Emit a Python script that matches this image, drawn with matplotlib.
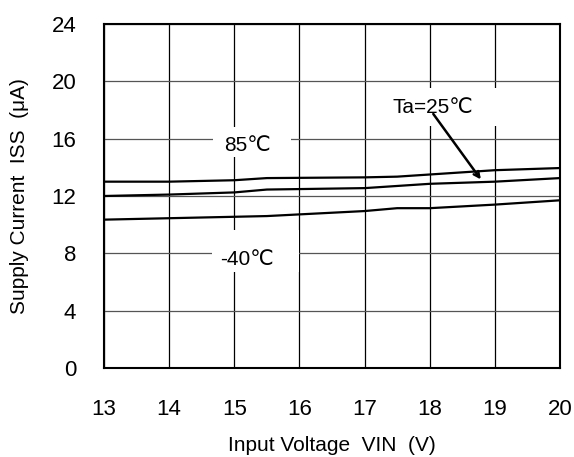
import numpy as np
import matplotlib
matplotlib.use("Agg")
import matplotlib.pyplot as plt
from matplotlib.patches import Rectangle

# supply current vs input voltage, three temperatures
vin = [13, 14, 15, 15.5, 17, 17.5, 18, 19, 20]
iss_85 = [13.0, 13.0, 13.1, 13.25, 13.3, 13.35, 13.5, 13.8, 13.95]
iss_25 = [12.0, 12.1, 12.25, 12.45, 12.55, 12.7, 12.85, 13.0, 13.25]
iss_m40 = [10.35, 10.45, 10.55, 10.6, 10.95, 11.15, 11.15, 11.4, 11.7]

xticks = [13, 14, 15, 16, 17, 18, 19, 20]
yticks = [0, 4, 8, 12, 16, 20, 24]

plt.rcParams['font.family'] = ['Liberation Sans', 'DejaVu Sans']

fig = plt.figure(figsize=(5.74, 4.57), dpi=100)
ax = fig.add_axes([104 / 574, 1 - 368 / 457, 456 / 574, 344 / 457])

for y in iss_85, iss_25, iss_m40:
    ax.plot(vin, y, color='black', lw=1.6, zorder=3)

ax.set_xlim(13, 20)
ax.set_ylim(0, 24)
ax.set_xticks(xticks)
ax.set_yticks(yticks)
ax.tick_params(length=0, labelsize=16, pad=22)
ax.tick_params(axis='y', pad=20)
ax.grid(axis='x', color='black', lw=0.9)
ax.grid(axis='y', color='#555555', lw=0.9)
for s in ax.spines.values():
    s.set_linewidth(1.5)

# white patches behind the labels
for x0, y0, w, h in [(14.67, 14.7, 1.2, 2.1), (14.66, 6.7, 1.33, 2.93), (17.36, 16.89, 1.67, 2.65)]:
    ax.add_patch(Rectangle((x0, y0), w, h, facecolor='white', edgecolor='none', zorder=2.5))

ax.text(15.2, 15.5, '85\u2103', fontsize=15, ha='center', va='center', zorder=4)
ax.text(15.2, 7.6, '-40\u2103', fontsize=15, ha='center', va='center', zorder=4)
ax.text(18.05, 18.2, 'Ta=25\u2103', fontsize=15, ha='center', va='center', zorder=4)
ax.annotate('', xy=(18.81, 13.0), xytext=(18.03, 17.88),
            arrowprops=dict(arrowstyle='->', color='black', lw=1.8), zorder=5)

ax.set_xlabel('Input Voltage  VIN  (V)', fontsize=15, labelpad=12)
ax.set_ylabel('Supply Current  ISS  (\u03bcA)', fontsize=15, labelpad=16)

fig.savefig('out.png', dpi=100)
